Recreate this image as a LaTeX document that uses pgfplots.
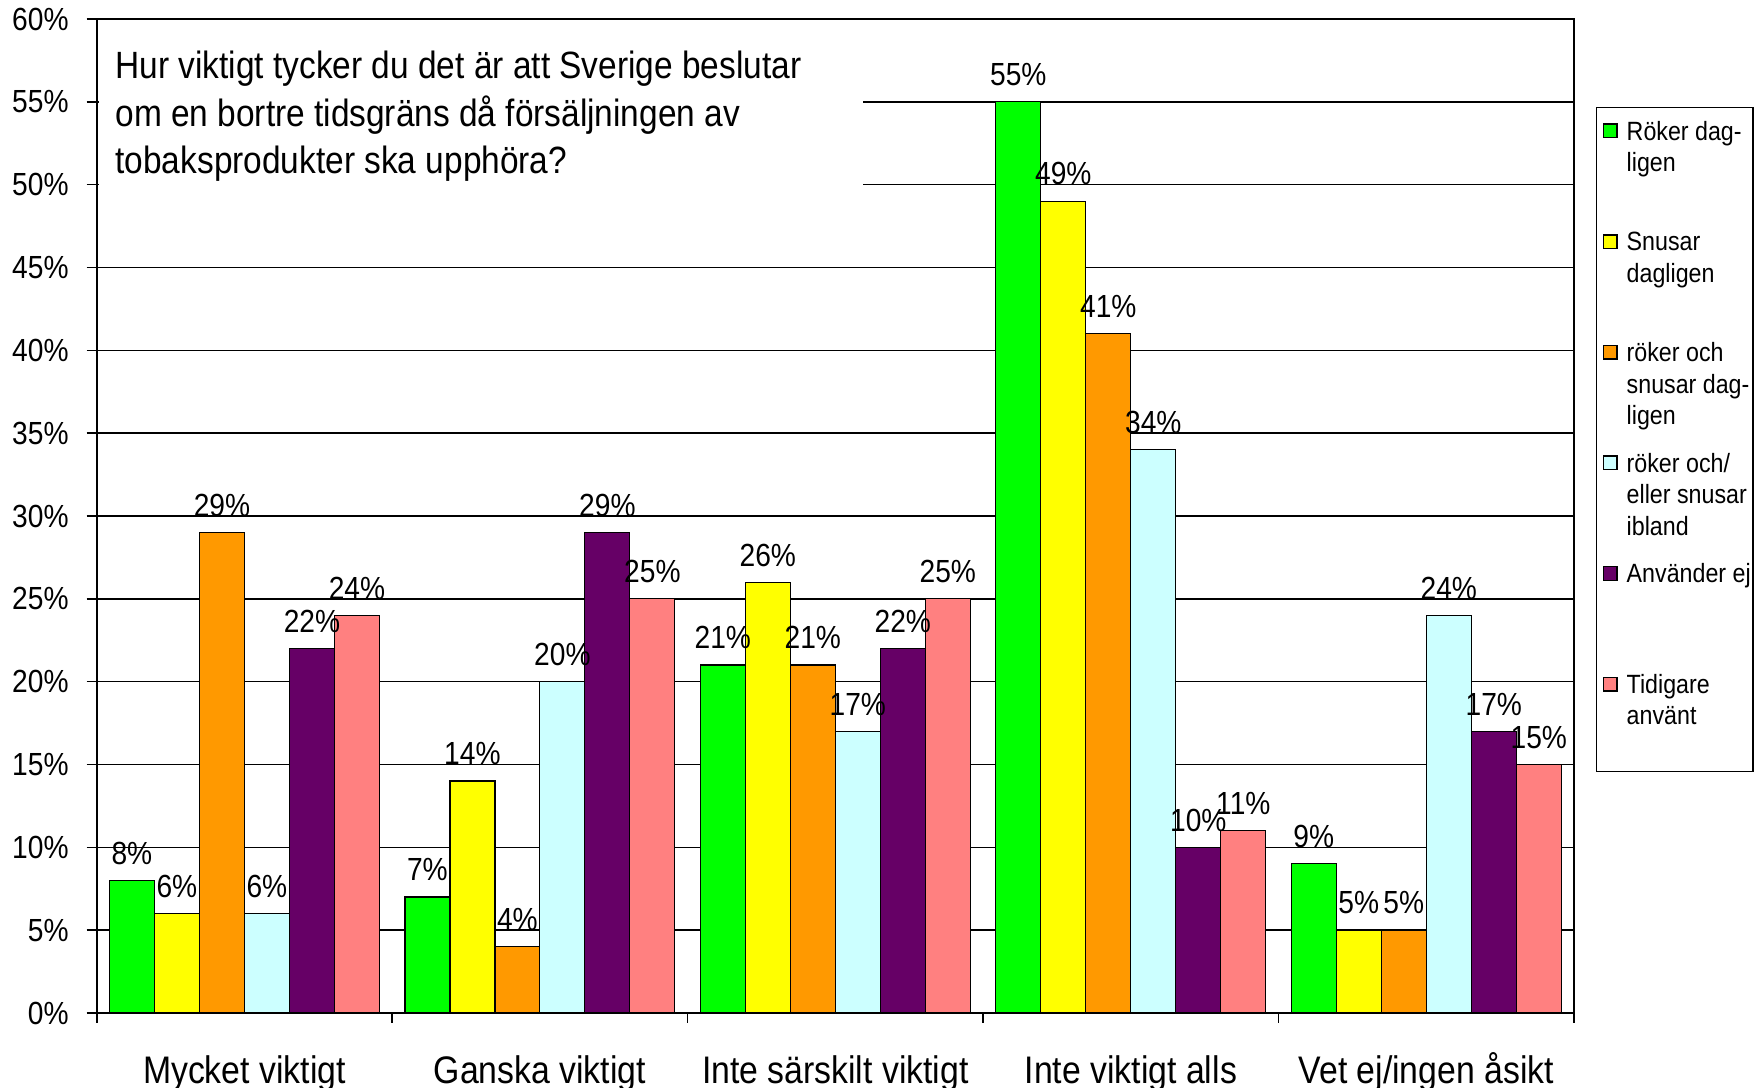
\documentclass[border=0pt]{standalone}
\usepackage{pgfplots}
\pgfplotsset{compat=1.18}
\usepackage{fontspec}
\setmainfont{Liberation Sans}[FakeStretch=0.88]
\definecolor{cGreen}{HTML}{00FF00}
\definecolor{cYellow}{HTML}{FFFF00}
\definecolor{cOrange}{HTML}{FF9900}
\definecolor{cCyan}{HTML}{CCFFFF}
\definecolor{cPurple}{HTML}{660066}
\definecolor{cSalmon}{HTML}{FF8080}
\newcommand\LE[1]{\parbox[t][27.66pt][t]{30pt}{\raggedright\hfuzz=20pt\rule{0pt}{8.15pt}#1}}
\begin{document}
\begin{tikzpicture}
\path[use as bounding box] (-24.175pt,-18.75pt) rectangle (416.575pt,253.25pt);
\begin{axis}[
  at={(0pt,0pt)}, anchor=south west, scale only axis,
  width=369.325pt, height=248.5pt,
  ybar=0pt, bar width=0.1523,
  xmin=-0.5, xmax=4.5, ymin=0, ymax=60,
  axis line style={black, line width=0.5pt},
  tick align=outside, major tick length=2.5pt, tick pos=left,
  tick style={black, line width=0.4pt},
  xtick={-0.5,0.5,1.5,2.5,3.5,4.5}, xticklabels={},
  extra x ticks={0,1,2,3,4},
  extra x tick labels={Mycket viktigt, Ganska viktigt, Inte särskilt viktigt, Inte viktigt alls, Vet ej/ingen åsikt},
  extra x tick style={major tick length=0pt, grid=none,
    xticklabel style={font=\fontsize{9.6}{11}\selectfont, text height=7.2pt, text depth=2pt, yshift=-6.8pt}},
  ytick={0,5,10,15,20,25,30,35,40,45,50,55,60},
  yticklabels={0\%,5\%,10\%,15\%,20\%,25\%,30\%,35\%,40\%,45\%,50\%,55\%,60\%},
  yticklabel style={font=\fontsize{8}{9.6}\selectfont, xshift=-1pt},
  ymajorgrids, grid style={black, line width=0.4pt},
  nodes near coords={\pgfmathprintnumber[assume math mode=true]{\pgfplotspointmeta}\%},
  every node near coord/.append style={font=\fontsize{8}{9.6}\selectfont, black, yshift=0.5pt},
  legend image code/.code={\draw[#1, draw=black, line width=0.35pt] (0pt,0.6pt) rectangle (3.4pt,4pt);},
  legend style={at={(1.01455,0.9117)}, anchor=north west, draw=black, line width=0.4pt,
    inner xsep=1.6pt, inner ysep=0pt, row sep=0pt, column sep=2.25pt,
    cells={anchor=base west},
    nodes={inner sep=0pt, text depth={}, font=\fontsize{6.6}{7.9}\selectfont}},
]
\addplot[fill=cGreen, draw=black, line width=0.3pt] coordinates {(0,8) (1,7) (2,21) (3,55) (4,9)};
\addplot[fill=cYellow, draw=black, line width=0.3pt] coordinates {(0,6) (1,14) (2,26) (3,49) (4,5)};
\addplot[fill=cOrange, draw=black, line width=0.3pt] coordinates {(0,29) (1,4) (2,21) (3,41) (4,5)};
\addplot[fill=cCyan, draw=black, line width=0.3pt] coordinates {(0,6) (1,20) (2,17) (3,34) (4,24)};
\addplot[fill=cPurple, draw=black, line width=0.3pt] coordinates {(0,22) (1,29) (2,22) (3,10) (4,17)};
\addplot[fill=cSalmon, draw=black, line width=0.3pt] coordinates {(0,24) (1,25) (2,25) (3,11) (4,15)};
\legend{\LE{\mbox{Röker dag-}\\\mbox{ligen}},\LE{\mbox{Snusar}\\\mbox{dagligen}},\LE{\mbox{röker och}\\\mbox{snusar dag-}\\\mbox{ligen}},\LE{\mbox{röker och/}\\\mbox{eller snusar}\\\mbox{ibland}},\LE{\mbox{Använder ej}},\LE{\mbox{Tidigare}\\\mbox{använt}}}
\fill[white] ([xshift=0.6pt,yshift=-0.6pt]rel axis cs:0,1) rectangle (rel axis cs:0.519,0.79);
\node[anchor=north west, align=left, inner sep=0pt, font=\fontsize{9.5}{11.8}\selectfont]
  at ([xshift=4.5pt,yshift=-7.9pt]rel axis cs:0,1)
  {Hur viktigt tycker du det är att Sverige beslutar\\om en bortre tidsgräns då försäljningen av\\tobaksprodukter ska upphöra?};
\end{axis}
\end{tikzpicture}
\end{document}
